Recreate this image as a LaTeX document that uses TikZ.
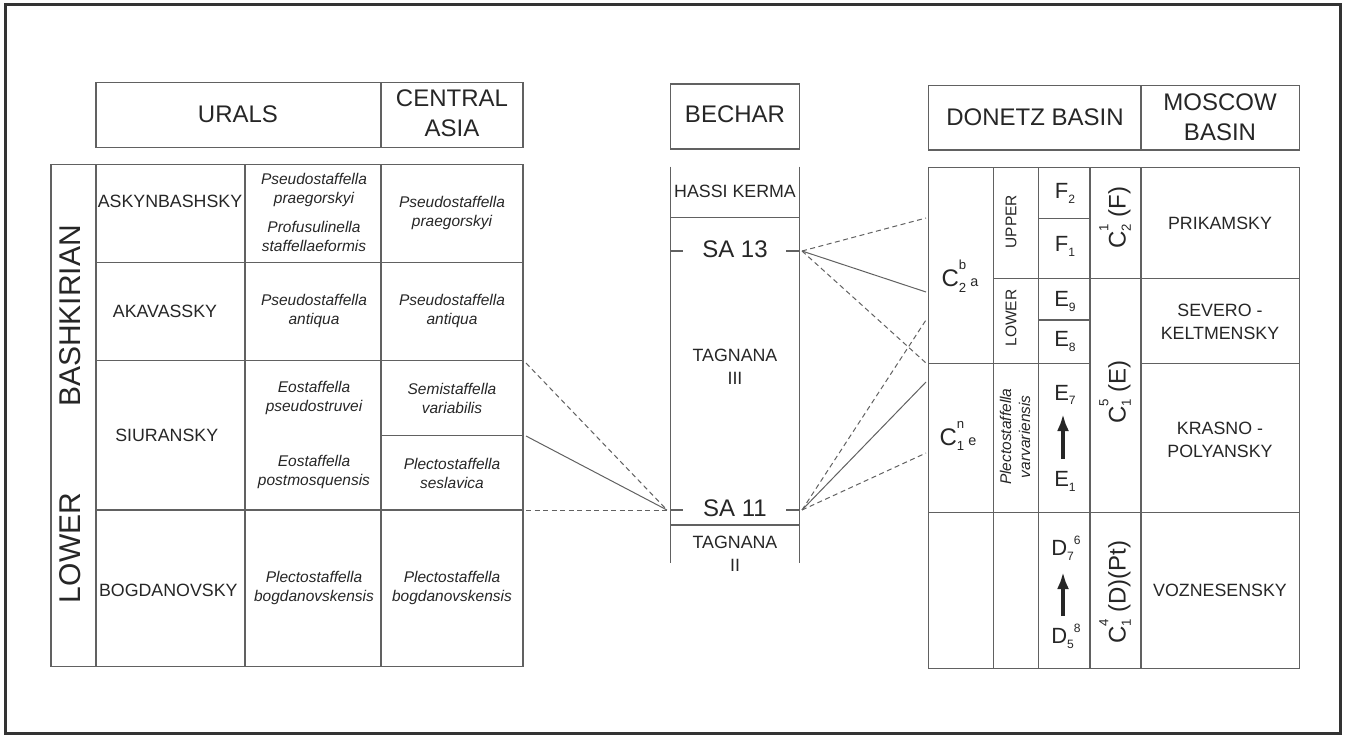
\documentclass[tikz,border=0pt]{standalone}
\usepackage{fontspec}
\setmainfont{Liberation Sans}
\usetikzlibrary{arrows.meta}
\newcommand{\fsz}[1]{\fontsize{#1}{#1}\selectfont}
\newcommand{\lsub}[1]{\raisebox{-0.22em}{\scalebox{0.55}{#1}}}
\newcommand{\lsup}[1]{\raisebox{0.72em}{\scalebox{0.55}{#1}}}
\newcommand{\dsup}[1]{\raisebox{0.5em}{\scalebox{0.55}{#1}}}
\newcommand{\lsubsup}[2]{\rlap{\lsup{#2}}\lsub{#1}}
\begin{document}
\begin{tikzpicture}[x=1pt,y=-1pt,
  ln/.style={draw=black!62, line width=1.1pt},
  conn/.style={draw=black!62, line width=1pt},
  dconn/.style={conn, dash pattern=on 5pt off 3.5pt},
  bigarrow/.style={draw=black!85, line width=3.6pt, -{Latex[length=17pt,width=12pt]}},
  txt/.style={text=black!85, inner sep=0pt, align=center},
  hdr/.style={txt, font=\fsz{24}, execute at begin node=\setlength{\baselineskip}{30pt}},
  big/.style={txt, font=\fsz{30}},
  stg/.style={txt, font=\fsz{17.8}, execute at begin node=\setlength{\baselineskip}{22.5pt}},
  small/.style={txt, font=\fsz{15.5}},
  sp/.style={txt, font=\fsz{15.5}\itshape, execute at begin node=\setlength{\baselineskip}{19pt}},
  dn/.style={txt, font=\fsz{22}},
  cl/.style={txt, font=\fsz{24}}
]
\useasboundingbox (0,0) rectangle (1345,736);
% outer frame
\draw[line width=3pt, draw=black!80] (5.5,4.5) rectangle (1340.5,733.5);

% ---------- left block: headers ----------
\draw[ln] (96,82.7) rectangle (523,147.3);
\draw[ln] (381,82.7) -- (381,147.3);
\node[hdr] (urals) at (238,114) {URALS};
\node[hdr] (casia) at (452,113) {CENTRAL\\ASIA};

% ---------- left block: table ----------
\draw[ln] (51,164.3) rectangle (523,666.7);
\foreach \xx in {96,245,381} \draw[ln] (\xx,164.3) -- (\xx,666.7);
\foreach \yy in {262.7,360.7,510} \draw[ln] (96,\yy) -- (523,\yy);
\draw[ln] (381,435.7) -- (523,435.7);

\node[big, rotate=90] (lower) at (70.5,548) {LOWER};
\node[big, rotate=90] (bashk) at (70.5,316) {BASHKIRIAN};

\node[stg] (askyn) at (170,201.7) {ASKYNBASHSKY};
\node[stg] (akav) at (165,311.7) {AKAVASSKY};
\node[stg] (siur) at (166.7,435) {SIURANSKY};
\node[stg] (bogd) at (168.3,590) {BOGDANOVSKY};

\node[sp] (u1a) at (314,190) {Pseudostaffella\\praegorskyi};
\node[sp] (u1b) at (314,236.2) {Profusulinella\\staffellaeformis};
\node[sp] (u2) at (314,311.2) {Pseudostaffella\\antiqua};
\node[sp] (u3a) at (314,397.5) {Eostaffella\\pseudostruvei};
\node[sp] (u3b) at (314,472.2) {Eostaffella\\postmosquensis};
\node[sp] (u4) at (314,587.5) {Plectostaffella\\bogdanovskensis};

\node[sp] (c1) at (452,213) {Pseudostaffella\\praegorskyi};
\node[sp] (c2) at (452,311.2) {Pseudostaffella\\antiqua};
\node[sp] (c3a) at (452,398.8) {Semistaffella\\variabilis};
\node[sp] (c3b) at (452,473.8) {Plectostaffella\\seslavica};
\node[sp] (c4) at (452,587.5) {Plectostaffella\\bogdanovskensis};

% ---------- Bechar ----------
\draw[ln] (670.7,84) rectangle (799.3,149);
\node[hdr] (bechar) at (735,114) {BECHAR};
\draw[ln] (670.7,166.7) -- (670.7,562.7);
\draw[ln] (799.3,166.7) -- (799.3,562.7);
\draw[ln] (670.7,217.7) -- (799.3,217.7);
\draw[ln] (670.7,525) -- (799.3,525);
\draw[ln] (670.7,251) -- (683,251);
\draw[ln] (786,251) -- (799.3,251);
\draw[ln] (670.7,510) -- (683,510);
\draw[ln] (786,510) -- (799.3,510);
\node[stg] (hassi) at (735,191.7) {HASSI KERMA};
\node[hdr] (sa13) at (735,249.7) {SA 13};
\node[hdr] (sa11) at (735,508.3) {SA 11};
\node[stg] (tag3) at (735,367) {TAGNANA\\III};
\node[stg] (tag2) at (735,554) {TAGNANA\\II};

% ---------- right block: headers ----------
\draw[ln] (928.3,85.7) rectangle (1299.3,150);
\draw[ln] (1141,85.7) -- (1141,150);
\node[hdr] (donetz) at (1035,117) {DONETZ BASIN};
\node[hdr] (moscow) at (1220,117) {MOSCOW\\BASIN};

% ---------- right block: table ----------
\draw[ln] (928.3,167.3) rectangle (1299.3,668.3);
\foreach \xx in {993.3,1038.3,1090,1141} \draw[ln] (\xx,167.3) -- (\xx,668.3);
\draw[ln] (1038.3,218.3) -- (1090,218.3);
\draw[ln] (993.3,278.3) -- (1299.3,278.3);
\draw[ln] (1038.3,320) -- (1090,320);
\draw[ln] (928.3,363.3) -- (1090,363.3);
\draw[ln] (1141,363.3) -- (1299.3,363.3);
\draw[ln] (928.3,512.7) -- (1299.3,512.7);

\node[cl] (c2ba) at (960,276) {C\lsubsup{2}{b}\,\scalebox{0.6}{a}};
\node[cl] (c1ne) at (958,436) {C\lsubsup{1}{n}\,\scalebox{0.6}{e}};

\node[small, rotate=90] (upper) at (1011,221.7) {UPPER};
\node[small, rotate=90] (lowr) at (1011,318) {LOWER};
\node[sp, rotate=90] (plect) at (1015,436.7) {Plectostaffella\\varvariensis};

\node[dn] (f2) at (1065,193.3) {F\lsub{2}};
\node[dn] (f1) at (1065,246.7) {F\lsub{1}};
\node[dn] (e9) at (1065,301.7) {E\lsub{9}};
\node[dn] (e8) at (1065,341.7) {E\lsub{8}};
\node[dn] (e7) at (1065,395) {E\lsub{7}};
\node[dn] (e1) at (1065,481.7) {E\lsub{1}};
\node[dn] (d76) at (1066,548) {D\lsub{7}\dsup{6}};
\node[dn] (d58) at (1066,636) {D\lsub{5}\dsup{8}};
\coordinate (ea) at (1063,459);
\coordinate (eb) at (1063,414);
\coordinate (da) at (1063,616);
\coordinate (db) at (1063,572);
\draw[bigarrow] (ea) -- (eb);
\draw[bigarrow] (da) -- (db);

\node[cl, rotate=90] (c21f) at (1115,218) {C\lsubsup{2}{1}\ (F)};
\node[cl, rotate=90] (c15e) at (1115,392) {C\lsubsup{1}{5}\ (E)};
\node[cl, rotate=90] (c14d) at (1115,592) {C\lsubsup{1}{4}\ (D)(Pt)};

\node[stg] (prik) at (1220,223.3) {PRIKAMSKY};
\node[stg] (sev) at (1220,322) {SEVERO -\\KELTMENSKY};
\node[stg] (kras) at (1220,440) {KRASNO -\\POLYANSKY};
\node[stg] (vozn) at (1220,590) {VOZNESENSKY};

% ---------- correlation lines ----------
\coordinate (sa11L) at (667,510);
\coordinate (sa11R) at (802,510);
\coordinate (sa13R) at (802,251);
\coordinate (lA) at (526,363);
\coordinate (lB) at (526,436);
\coordinate (lC) at (526,510);
\coordinate (r1) at (926,218);
\coordinate (r2) at (926,292);
\coordinate (r3) at (926,363);
\coordinate (r4) at (926,320);
\coordinate (r5) at (926,382);
\coordinate (r6) at (926,453);

\draw[dconn] (lA) -- (sa11L);
\draw[conn] (lB) -- (sa11L);
\draw[dconn] (lC) -- (sa11L);

\draw[dconn] (sa13R) -- (r1);
\draw[conn] (sa13R) -- (r2);
\draw[dconn] (sa13R) -- (r3);
\draw[dconn] (sa11R) -- (r4);
\draw[conn] (sa11R) -- (r5);
\draw[dconn] (sa11R) -- (r6);
\end{tikzpicture}
\end{document}
